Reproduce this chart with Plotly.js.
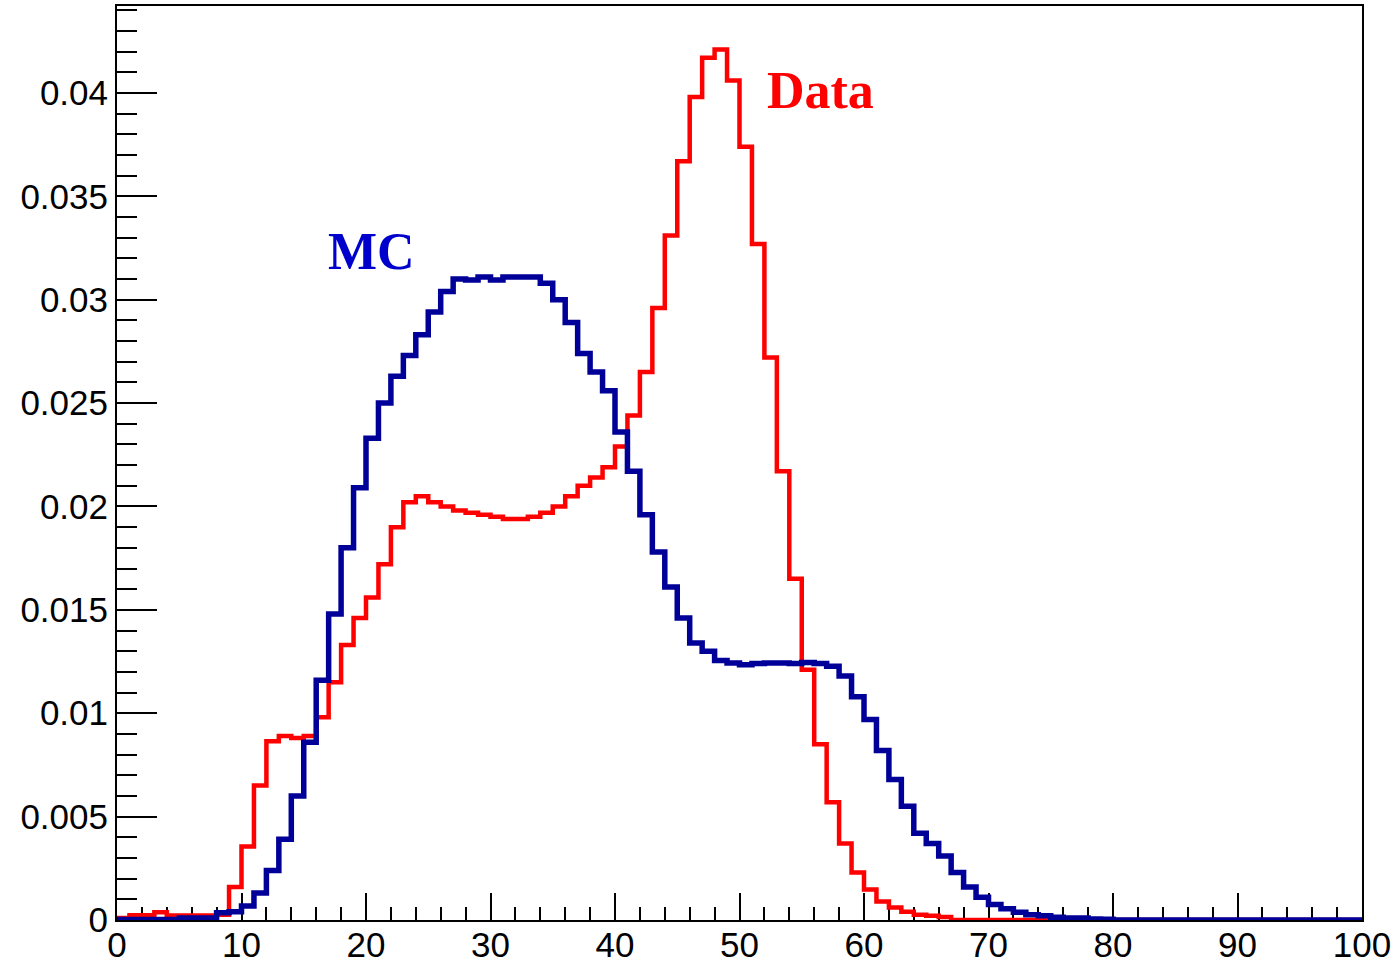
<!DOCTYPE html>
<html>
<head>
<meta charset="utf-8">
<script src="https://cdn.plot.ly/plotly-3.0.1.min.js"></script>
<style>
  html, body { margin: 0; padding: 0; background: #fff; }
  #chart { width: 1397px; height: 963px; }
</style>
</head>
<body>
<div id="chart"></div>
<script>
// Histogram binning (100 bins of width 1 from 0 to 100)
const xLow = 0;
const xHigh = 100;
const nBins = 100;

// Data histogram (red), bin contents for bins 0..99
const dataValues = [
  0.0001, 0.00023, 0.00023, 0.00037, 0.00022, 0.00022, 0.00022, 0.00022, 0.00025, 0.0016,
  0.00355, 0.0065, 0.00865, 0.0089, 0.0088, 0.0089, 0.0098, 0.0115, 0.0133, 0.0146,
  0.0156, 0.0172, 0.0190, 0.0202, 0.0205, 0.0202, 0.0200, 0.0198, 0.0197, 0.0196,
  0.0195, 0.0194, 0.0194, 0.0195, 0.0197, 0.0200, 0.0205, 0.0210, 0.0214, 0.0219,
  0.0229, 0.0244, 0.0265, 0.0296, 0.0331, 0.0367, 0.0398, 0.0417, 0.0421, 0.0406,
  0.0374, 0.0327, 0.0272, 0.0217, 0.0165, 0.0121, 0.0085, 0.0057, 0.0037, 0.0023,
  0.00148, 0.0009, 0.0006, 0.0004, 0.00025, 0.0002, 0.00015, 0, 0, 0,
  0, 0, 0, 0, 0, 0, 0, 0, 0, 0,
  0, 0, 0, 0, 0, 0, 0, 0, 0, 0,
  0, 0, 0, 0, 0, 0, 0, 0, 0, 0
];

// MC histogram (blue), bin contents for bins 0..99
const mcValues = [
  0.00002, 0.00002, 0.00002, 0.00002, 0.00002, 0.0001, 0.0001, 0.0001, 0.00035, 0.0004,
  0.00068, 0.0013, 0.0024, 0.0039, 0.0060, 0.0086, 0.0116, 0.0148, 0.0180, 0.0209,
  0.0233, 0.0250, 0.0263, 0.0273, 0.0283, 0.0294, 0.0304, 0.0310, 0.03095, 0.0311,
  0.03095, 0.0311, 0.0311, 0.0311, 0.0308, 0.0300, 0.0289, 0.0274, 0.0265, 0.0256,
  0.0236, 0.0217, 0.0196, 0.0178, 0.0161, 0.0146, 0.0134, 0.0130, 0.01255, 0.01243,
  0.01235, 0.0124, 0.01243, 0.01243, 0.0124, 0.01245, 0.0124, 0.01227, 0.0118, 0.0108,
  0.0097, 0.0082, 0.0068, 0.0055, 0.0042, 0.0037, 0.0031, 0.0023, 0.0016, 0.0011,
  0.00075, 0.00055, 0.00037, 0.00025, 0.0002, 0.00013, 0.0001, 0.0001, 0.00005, 0.00004,
  0, 0, 0, 0, 0, 0, 0, 0, 0, 0,
  0, 0, 0, 0, 0, 0, 0, 0, 0, 0
];

// Labels
const dataLabel = 'Data';
const mcLabel = 'MC';

// Build step outline (left edges + final right edge)
const binWidth = (xHigh - xLow) / nBins;
function stepX(n) {
  const xs = [];
  for (let i = 0; i <= n; i++) xs.push(xLow + i * binWidth);
  return xs;
}
function stepY(vals) {
  return vals.concat([vals[vals.length - 1]]);
}

const traces = [
  {
    x: stepX(nBins), y: stepY(dataValues),
    type: 'scatter', mode: 'lines',
    line: { shape: 'hv', color: '#ff0000', width: 4.5 },
    name: dataLabel, hoverinfo: 'x+y'
  },
  {
    x: stepX(nBins), y: stepY(mcValues),
    type: 'scatter', mode: 'lines',
    line: { shape: 'hv', color: '#000099', width: 5.5 },
    name: mcLabel, hoverinfo: 'x+y'
  }
];

const yMax = 1.05 * Math.max(...dataValues);

const tickFont = { family: 'Liberation Sans, Arial, sans-serif', size: 35, color: '#000' };

const layout = {
  width: 1397, height: 963,
  margin: { l: 117, r: 35, t: 6, b: 43, pad: 0 },
  paper_bgcolor: '#fff', plot_bgcolor: '#fff',
  showlegend: false,
  xaxis: {
    range: [xLow, xHigh],
    tick0: 0, dtick: 10,
    ticks: 'inside', ticklen: 27, tickwidth: 2, tickcolor: '#000',
    minor: { dtick: 2, ticks: 'inside', ticklen: 13, tickwidth: 2, tickcolor: '#000', showgrid: false },
    showgrid: false, zeroline: false,
    showline: true, mirror: true, linecolor: '#000', linewidth: 2,
    tickfont: tickFont, layer: 'below traces',
    ticklabelstandoff: -7
  },
  yaxis: {
    range: [0, yMax],
    tick0: 0, dtick: 0.005,
    ticks: 'inside', ticklen: 40, tickwidth: 2, tickcolor: '#000',
    minor: { dtick: 0.001, ticks: 'inside', ticklen: 20, tickwidth: 2, tickcolor: '#000', showgrid: false },
    showgrid: false, zeroline: false,
    showline: true, mirror: true, linecolor: '#000', linewidth: 2,
    tickfont: tickFont, layer: 'below traces'
  },
  annotations: [
    {
      x: 56.5, y: 0.0401, xref: 'x', yref: 'y',
      text: '<b>' + dataLabel + '</b>', showarrow: false,
      xanchor: 'center', yanchor: 'middle',
      font: { family: 'Liberation Serif, Times New Roman, serif', size: 52, color: '#ff0000' }
    },
    {
      x: 20.45, y: 0.03235, xref: 'x', yref: 'y',
      text: '<b>' + mcLabel + '</b>', showarrow: false,
      xanchor: 'center', yanchor: 'middle',
      font: { family: 'Liberation Serif, Times New Roman, serif', size: 52, color: '#0000cc' }
    }
  ]
};

Plotly.newPlot('chart', traces, layout, { displayModeBar: false, staticPlot: true });
</script>
</body>
</html>
